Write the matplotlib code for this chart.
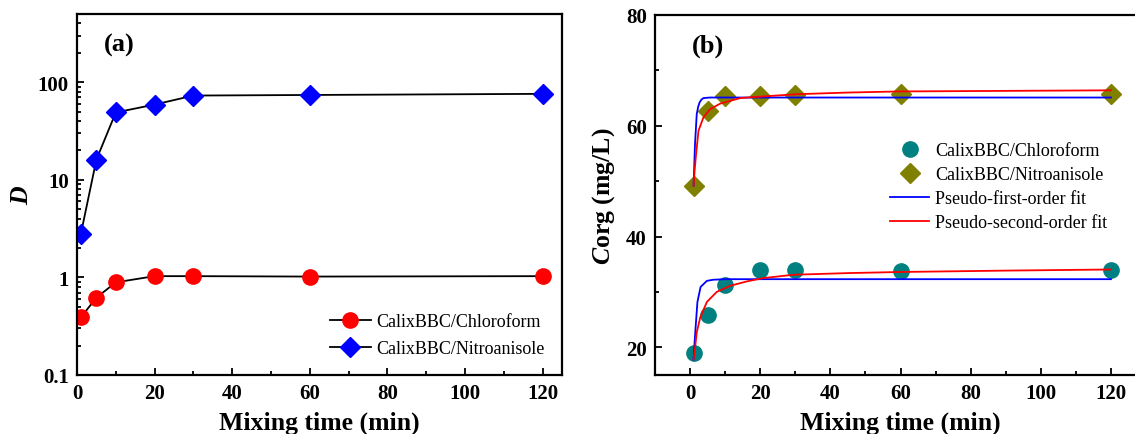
import numpy as np
import matplotlib
matplotlib.use("Agg")
import matplotlib.pyplot as plt
from matplotlib.ticker import MultipleLocator, LogLocator, NullFormatter, FixedLocator

plt.rcParams["font.family"] = ["Liberation Serif", "DejaVu Serif"]
plt.rcParams["mathtext.fontset"] = "custom"
plt.rcParams["mathtext.it"] = "Liberation Serif:italic:bold"
plt.rcParams["mathtext.rm"] = "Liberation Serif:bold"

# Data, panel (a): distribution ratio D vs mixing time
t_min = [1, 5, 10, 20, 30, 60, 120]
D_chloroform = [0.39, 0.62, 0.89, 1.03, 1.03, 1.02, 1.03]
D_nitroanisole = [2.8, 16.1, 49, 59, 73, 74, 76]

# Data, panel (b): Corg vs mixing time
corg_chloroform = [18.9, 25.8, 31.3, 34.0, 34.0, 33.7, 33.9]
corg_nitroanisole = [49.1, 62.7, 65.3, 65.3, 65.6, 65.8, 65.7]

# fit curves
fit1_chl_t = [1.0, 1.3, 1.6, 2.1, 3.0, 4.8, 6.6, 10, 120]
fit1_chl_y = [17.8, 21.0, 23.8, 28.2, 30.9, 32.0, 32.2, 32.3, 32.3]
fit2_chl_t = [1.0, 1.4, 1.9, 2.9, 4.8, 7.6, 11.4, 16.2, 20.9, 29.5, 45, 60, 90, 120]
fit2_chl_y = [17.8, 19.8, 22.7, 25.4, 28.2, 30.0, 31.1, 31.9, 32.5, 33.1, 33.4, 33.6, 33.85, 34.05]
fit1_nit_t = [1.0, 1.4, 1.9, 2.3, 2.7, 3.2, 3.8, 5.7, 120]
fit1_nit_y = [49.2, 56.6, 62.1, 63.4, 64.2, 64.7, 65.0, 65.1, 65.1]
fit2_nit_t = [1.0, 1.3, 1.7, 2.4, 3.8, 5.7, 8.6, 14.3, 20.9, 30.5, 45, 60, 90, 120]
fit2_nit_y = [49.2, 52.0, 54.8, 59.1, 61.5, 63.0, 64.0, 65.0, 65.3, 65.7, 66.0, 66.2, 66.3, 66.4]

W, H = 1135, 435
fig = plt.figure(figsize=(W / 100, H / 100), dpi=100)

ax1 = fig.add_axes([77 / W, 1 - 376 / H, (562 - 77) / W, (376 - 15) / H])
ax2 = fig.add_axes([655 / W, 1 - 376 / H, (1146 - 655) / W, (376 - 16) / H])

lab_kw = dict(fontsize=18.5, fontweight="bold")

# (a)
ax1.plot(t_min, D_chloroform, "-", color="black", lw=1.3, marker="o",
         ms=11, mfc="red", mec="red", label="CalixBBC/Chloroform")
ax1.plot(t_min, D_nitroanisole, "-", color="black", lw=1.3, marker="D",
         ms=10, mfc="blue", mec="blue", label="CalixBBC/Nitroanisole")
ax1.set_yscale("log")
ax1.set_ylim(0.1, 500)
ax1.set_xlim(0, 125)
ax1.set_yticks([0.1, 1, 10, 100])
ax1.set_yticklabels(["0.1", "1", "10", "100"])
ax1.yaxis.set_minor_locator(LogLocator(base=10, subs=np.arange(2, 10)))
ax1.yaxis.set_minor_formatter(NullFormatter())
ax1.xaxis.set_major_locator(MultipleLocator(20))
ax1.xaxis.set_minor_locator(MultipleLocator(10))
ax1.set_xlabel("Mixing time (min)", labelpad=5, **lab_kw)
ax1.set_ylabel("D", fontstyle="italic", labelpad=3, **lab_kw)
ax1.text(0.055, 0.915, "(a)", transform=ax1.transAxes, fontsize=19,
         fontweight="bold", va="center")
ax1.legend(loc="lower right", bbox_to_anchor=(0.965, 0.05), frameon=False,
           fontsize=13, handlelength=2.3, handletextpad=0.3,
           labelspacing=0.55, borderpad=0, borderaxespad=0)

# (b)
ax2.plot(t_min, corg_chloroform, "o", ms=11, color="#008080",
         label="CalixBBC/Chloroform", zorder=2)
ax2.plot(t_min, corg_nitroanisole, "D", ms=10, color="#808000",
         label="CalixBBC/Nitroanisole", zorder=2)
ax2.plot(fit1_nit_t, fit1_nit_y, "-", color="blue", lw=1.3,
         label="Pseudo-first-order fit", zorder=3)
ax2.plot(fit2_nit_t, fit2_nit_y, "-", color="red", lw=1.3,
         label="Pseudo-second-order fit", zorder=3)
ax2.plot(fit1_chl_t, fit1_chl_y, "-", color="blue", lw=1.3, zorder=3)
ax2.plot(fit2_chl_t, fit2_chl_y, "-", color="red", lw=1.3, zorder=3)
ax2.set_xlim(-10, 130)
ax2.set_ylim(15, 80)
ax2.xaxis.set_major_locator(FixedLocator([0, 20, 40, 60, 80, 100, 120]))
ax2.xaxis.set_minor_locator(FixedLocator(list(range(-10, 131, 10))))
ax2.yaxis.set_major_locator(FixedLocator([20, 40, 60, 80]))
ax2.yaxis.set_minor_locator(FixedLocator([30, 50, 70]))
ax2.set_xlabel("Mixing time (min)", labelpad=5, **lab_kw)
ax2.set_ylabel(r"$\mathit{C}$org (mg/L)", labelpad=6, **lab_kw)
ax2.text(0.075, 0.915, "(b)", transform=ax2.transAxes, fontsize=19,
         fontweight="bold", va="center")
ax2.legend(loc="upper left", bbox_to_anchor=(0.478, 0.646), frameon=False,
           fontsize=13, handlelength=2.2, handletextpad=0.3,
           labelspacing=0.38, borderpad=0, borderaxespad=0)

for ax in (ax1, ax2):
    for s in ax.spines.values():
        s.set_linewidth(1.6)
    ax.tick_params(which="both", direction="in", top=False, right=False,
                   width=1.3, labelsize=15)
    ax.tick_params(which="major", length=5, pad=6)
    ax.tick_params(which="minor", length=3)
    for lbl in ax.get_xticklabels() + ax.get_yticklabels():
        lbl.set_fontweight("bold")

fig.savefig("out.png", dpi=100)
